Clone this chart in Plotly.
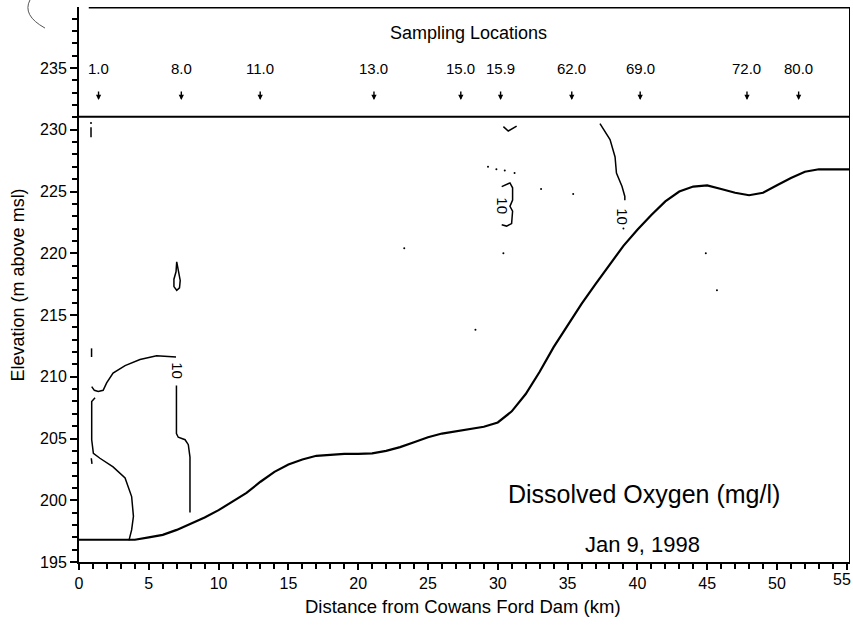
import plotly.graph_objects as go

# ---------------- data ----------------
# bottom (bathymetry) profile
bed_km = [0, 1, 2, 3, 4, 5, 6, 7, 8, 9, 10, 11, 12, 13, 14, 15, 16, 17, 18, 19, 20,
          21, 22, 23, 24, 25, 26, 27, 28, 29, 30, 31, 32, 33, 34, 35, 36, 37, 38, 39,
          40, 41, 42, 43, 44, 45, 46, 47, 48, 49, 50, 51, 52, 53, 54, 55.2]
bed_elev = [196.8, 196.8, 196.8, 196.8, 196.8, 197.0, 197.2, 197.6, 198.1, 198.6, 199.2,
            199.9, 200.6, 201.5, 202.3, 202.9, 203.3, 203.6, 203.7, 203.75, 203.75,
            203.8, 204.0, 204.3, 204.7, 205.1, 205.4, 205.6, 205.8, 205.95, 206.3,
            207.2, 208.6, 210.4, 212.4, 214.2, 215.9, 217.5, 219.1, 220.6,
            221.9, 223.1, 224.2, 225.0, 225.4, 225.5, 225.2, 224.9, 224.7, 224.9,
            225.5, 226.1, 226.6, 226.8, 226.8, 226.8]

water_surface = 231.05

# 10 mg/l contour pieces (km, elevation)
c1_km = [6.95, 5.56, 4.37, 3.3, 2.44, 1.98, 1.73, 1.38, 1.1, 0.91]
c1_el = [211.6, 211.7, 211.4, 210.9, 210.3, 209.5, 208.9, 208.8, 208.9, 209.2]

c2_km = [6.98, 6.98, 7.11, 7.6, 7.83, 7.95, 7.95]
c2_el = [209.3, 205.4, 205.1, 204.9, 204.5, 203.5, 199.0]

c3_km = [1.15, 0.91, 0.91, 1.03, 1.5, 2.44, 3.3, 3.77, 3.9, 3.77, 3.58]
c3_el = [208.3, 208.0, 204.9, 203.8, 203.4, 202.7, 201.8, 200.3, 198.7, 197.6, 196.75]

c4_km = [0.9, 0.9]
c4_el = [211.6, 212.3]

c5_km = [0.88, 0.93]
c5_el = [203.4, 202.95]

c6_km = [7.0, 7.1, 7.25, 7.2, 7.0, 6.8, 6.8, 6.95, 7.0]
c6_el = [219.3, 218.6, 217.8, 217.2, 217.0, 217.3, 217.9, 218.5, 219.3]

c7_km = [30.4, 30.75, 31.35]
c7_el = [230.25, 229.9, 230.3]

c8_km = [30.28, 30.87, 31.06, 31.06, 30.87, 31.06, 30.99, 30.63, 30.28]
c8_el = [225.4, 225.7, 225.3, 224.3, 223.8, 223.4, 222.4, 222.2, 222.3]

c9_km = [37.32, 38.04, 38.4, 38.5, 38.9, 39.1, 39.1]
c9_el = [230.5, 229.2, 227.8, 226.5, 225.4, 224.6, 224.3]

c10_km = [0.86, 0.86]
c10_el = [229.4, 230.2]

contour_pieces = [(c1_km, c1_el), (c2_km, c2_el), (c3_km, c3_el), (c4_km, c4_el),
                  (c5_km, c5_el), (c6_km, c6_el), (c7_km, c7_el), (c8_km, c8_el),
                  (c9_km, c9_el), (c10_km, c10_el)]

# contour labels
lab_km = [7.05, 30.37, 38.97]
lab_el = [210.5, 223.8, 223.0]
lab_txt = ["10", "10", "10"]

# scan specks
speck_km = [0.86, 29.3, 29.9, 30.5, 31.2, 33.1, 35.4, 30.4, 23.3, 28.4, 44.9, 45.7, 39.0]
speck_el = [230.55, 227.0, 226.8, 226.7, 226.5, 225.2, 224.8, 220.0, 220.4, 213.8, 220.0, 217.0, 222.0]

# sampling locations
loc_km = [1.4, 7.33, 12.98, 21.13, 27.35, 30.2, 35.3, 40.2, 47.85, 51.55]
loc_txt = ["1.0", "8.0", "11.0", "13.0", "15.0", "15.9", "62.0", "69.0", "72.0", "80.0"]

x_ticks = [0, 5, 10, 15, 20, 25, 30, 35, 40, 45, 50, 55]
x_ticktext = ["0", "5", "10", "15", "20", "25", "30", "35", "40", "45", "50", ""]
last_x_label = "55"
y_ticks = [195, 200, 205, 210, 215, 220, 225, 230, 235]

X_RANGE = [0, 55.23]
Y_RANGE = [195, 239.94]

FONT = "Arial, Liberation Sans, sans-serif"

# ---------------- figure ----------------
fig = go.Figure()

fig.add_trace(go.Scatter(x=bed_km, y=bed_elev, mode="lines",
                         line=dict(color="black", width=2.2), hoverinfo="skip"))

for kx, ky in contour_pieces:
    fig.add_trace(go.Scatter(x=kx, y=ky, mode="lines",
                             line=dict(color="black", width=1.5), hoverinfo="skip"))

fig.add_trace(go.Scatter(x=speck_km, y=speck_el, mode="markers",
                         marker=dict(color="black", size=2), hoverinfo="skip"))

annotations = []
for kx, ky, t in zip(lab_km, lab_el, lab_txt):
    annotations.append(dict(x=kx, y=ky, text=t, showarrow=False, textangle=90,
                            font=dict(family=FONT, size=15, color="black")))

for kx, t in zip(loc_km, loc_txt):
    annotations.append(dict(x=kx, y=235.0, text=t, showarrow=False,
                            font=dict(family=FONT, size=15, color="black")))
    annotations.append(dict(x=kx, y=232.4, ax=0, ay=-10, text="", showarrow=True,
                            arrowhead=2, arrowsize=0.75, arrowwidth=1.4, arrowcolor="black",
                            axref="pixel", ayref="pixel"))

annotations.append(dict(x=27.9, y=237.8, text="Sampling Locations", showarrow=False,
                        font=dict(family=FONT, size=18, color="black")))
annotations.append(dict(x=40.5, y=200.5, text="Dissolved Oxygen (mg/l)", showarrow=False,
                        font=dict(family=FONT, size=25, color="black")))
annotations.append(dict(x=40.4, y=196.45, text="Jan 9, 1998", showarrow=False,
                        font=dict(family=FONT, size=22, color="black")))

# last x tick label, kept inside the page edge
annotations.append(dict(x=X_RANGE[1], y=-0.012, xref="x", yref="paper", text=last_x_label,
                        showarrow=False, xanchor="right", yanchor="top", xshift=3,
                        font=dict(family=FONT, size=16, color="black")))

# axis titles
annotations.append(dict(x=27.5, y=-0.081, xref="x", yref="paper",
                        text="Distance from Cowans Ford Dam (km)", showarrow=False,
                        yanchor="middle", font=dict(family=FONT, size=18.5, color="black")))
annotations.append(dict(x=-0.079, y=217.4, xref="paper", yref="y",
                        text="Elevation (m above msl)", showarrow=False, textangle=-90,
                        xanchor="center", font=dict(family=FONT, size=18, color="black")))

shapes = [
    dict(type="line", xref="x", yref="y", x0=X_RANGE[0], x1=X_RANGE[1],
         y0=water_surface, y1=water_surface, line=dict(color="black", width=2)),
    dict(type="line", xref="x", yref="y", x0=0.7, x1=X_RANGE[1],
         y0=Y_RANGE[1], y1=Y_RANGE[1], line=dict(color="black", width=3)),
    dict(type="line", xref="x", yref="y", x0=X_RANGE[1], x1=X_RANGE[1],
         y0=Y_RANGE[0], y1=Y_RANGE[1], line=dict(color="black", width=2)),
    # scan-edge artifact in the top-left corner
    dict(type="path", xref="paper", yref="paper",
         path="M -0.0636,1.0126 Q -0.074,0.985 -0.0441,0.962",
         line=dict(color="#555555", width=1)),
]

fig.update_layout(
    width=853, height=625,
    margin=dict(l=79, r=3, t=7, b=63, autoexpand=False),
    paper_bgcolor="white", plot_bgcolor="white",
    showlegend=False,
    annotations=annotations,
    shapes=shapes,
    font=dict(family=FONT, color="black"),
)

fig.update_xaxes(range=X_RANGE, tickvals=x_ticks, ticktext=x_ticktext, ticks="outside",
                 ticklen=6, tickwidth=2,
                 tickcolor="black", showline=True, linecolor="black", linewidth=2,
                 showgrid=False, zeroline=False, automargin=False,
                 tickfont=dict(family=FONT, size=16, color="black"),
                 minor=dict(dtick=1, ticks="outside", ticklen=5, tickwidth=1.5, tickcolor="black"))
fig.update_yaxes(range=Y_RANGE, tickvals=y_ticks, ticks="outside", ticklen=7, tickwidth=2,
                 tickcolor="black", showline=True, linecolor="black", linewidth=2,
                 showgrid=False, zeroline=False, automargin=False,
                 tickfont=dict(family=FONT, size=16, color="black"),
                 minor=dict(dtick=1, ticks="outside", ticklen=5, tickwidth=1.5, tickcolor="black"))

fig.write_html("out.html", config={"displayModeBar": False},
               post_script="document.body.style.margin='0';document.body.style.padding='0';"
                           "document.body.style.overflow='hidden';")
